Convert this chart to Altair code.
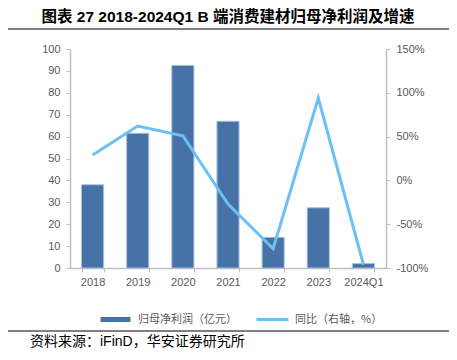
import altair as alt
import pandas as pd

years = ["2018", "2019", "2020", "2021", "2022", "2023", "2024Q1"]
profit = [38.0, 61.5, 92.5, 67.0, 14.0, 27.5, 2.0]
growth = [29.0, 62.0, 51.0, -27.0, -78.0, 94.0, -96.0]

bar_label = "归母净利润（亿元）"
line_label = "同比（右轴，%）"
title_text = "图表 27 2018-2024Q1 B 端消费建材归母净利润及增速"
source_text = "资料来源：iFinD，华安证券研究所"

df = pd.DataFrame({"year": years, "profit": profit, "growth": growth,
                   "s1": bar_label, "s2": line_label})

FONT = "Liberation Sans, Arial, Noto Sans CJK SC"
CJK = "Noto Sans CJK SC"
GRAY = "#595959"
AX = "#BFBFBF"

x = alt.X("year:N", sort=years, title=None,
          scale=alt.Scale(paddingInner=0.51, paddingOuter=0.255),
          axis=alt.Axis(labelAngle=0, labelColor=GRAY, labelFont=FONT, labelFontSize=11,
                        domainColor=AX, domainWidth=1.5, tickColor=AX, tickSize=4,
                        tickBand="extent", labelPadding=4))

bars = alt.Chart(df).mark_bar(stroke="#A9BEDC", strokeWidth=1).encode(
    x=x,
    y=alt.Y("profit:Q", title=None,
            scale=alt.Scale(domain=[0, 100], nice=False),
            axis=alt.Axis(values=list(range(0, 101, 10)), grid=False,
                          labelColor=GRAY, labelFont=FONT, labelFontSize=11,
                          domainColor=AX, domainWidth=1.5, tickColor=AX, tickSize=4,
                          labelPadding=6)),
    color=alt.Color("s1:N", title=None,
                    scale=alt.Scale(domain=[bar_label], range=["#4672A8"]),
                    legend=alt.Legend(orient="none", legendX=28, legendY=253,
                                      symbolType="stroke", symbolSize=900,
                                      symbolStrokeWidth=5, symbolStrokeColor="#4672A8",
                                      padding=0,
                                      labelFont=CJK, labelFontSize=11, labelColor=GRAY,
                                      labelOffset=5)),
)

line = alt.Chart(df).mark_line(strokeWidth=3).encode(
    x=x,
    y=alt.Y("growth:Q", title=None,
            scale=alt.Scale(domain=[-100, 150], nice=False),
            axis=alt.Axis(orient="right", values=list(range(-100, 151, 50)), grid=False,
                          labelExpr="datum.value + '%'",
                          labelColor=GRAY, labelFont=FONT, labelFontSize=11,
                          domainColor=AX, domainWidth=1.5, tickColor=AX, tickSize=4,
                          labelPadding=6)),
    stroke=alt.Stroke("s2:N", title=None,
                      scale=alt.Scale(domain=[line_label], range=["#6CC0F4"]),
                      legend=alt.Legend(orient="none", legendX=185, legendY=253,
                                        symbolType="stroke", symbolSize=1024,
                                        symbolStrokeWidth=3, padding=0,
                                        labelFont=CJK, labelFontSize=11, labelColor=GRAY,
                                        labelOffset=5)),
)

deco = pd.DataFrame({"k": [0]})
top_rule = alt.Chart(deco).mark_rule(color="#000000", strokeWidth=1).encode(
    x=alt.value(-62), x2=alt.value(379), y=alt.value(-20))
bot_rule = alt.Chart(deco).mark_rule(color="#000000", strokeWidth=1).encode(
    x=alt.value(-62), x2=alt.value(379), y=alt.value(282))
title = alt.Chart(deco).mark_text(text=title_text, font=FONT, fontSize=15.5, fontWeight="bold",
                                  color="#000000", align="center", baseline="middle").encode(
    x=alt.value(158), y=alt.value(-32))
source = alt.Chart(deco).mark_text(text=source_text, font=FONT, fontSize=14,
                                   color="#000000", align="left", baseline="middle").encode(
    x=alt.value(-40), y=alt.value(293))

chart = alt.layer(bars, line, top_rule, bot_rule, title, source).resolve_scale(
    y="independent", color="independent"
).properties(
    width=316, height=219,
    autosize=alt.AutoSizeParams(type="none"),
    padding={"left": 62, "top": 41, "right": 63, "bottom": 84},
).configure_view(stroke=None)

chart.save("out.html", embed_options={"renderer": "svg", "actions": False})
